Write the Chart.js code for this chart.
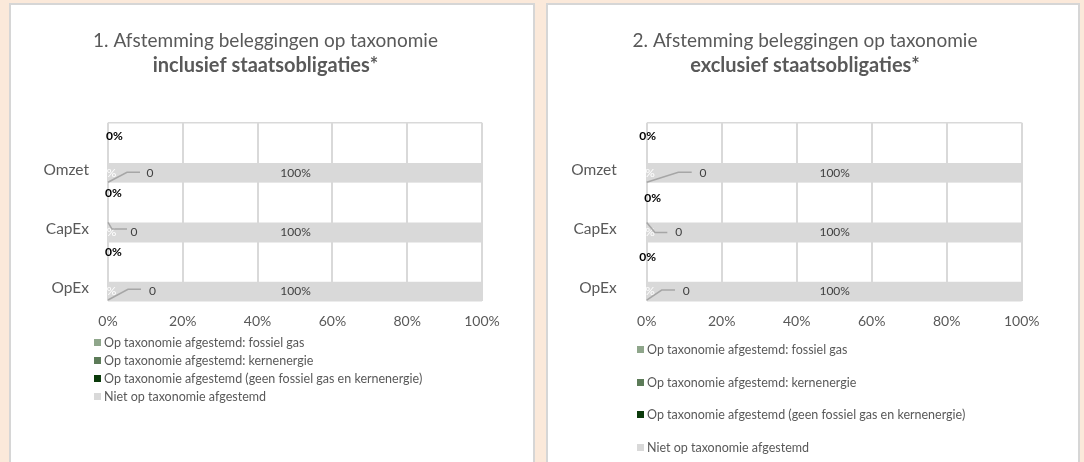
<!DOCTYPE html>
<html>
<head>
<meta charset="utf-8">
<script src="https://cdn.jsdelivr.net/npm/chart.js@4.4.1/dist/chart.umd.min.js"></script>
<style>
    html, body { margin: 0; padding: 0; width: 1084px; height: 462px; overflow: hidden; background: #FBE9DA; font-family: Lato, sans-serif; }
    .panel { position: absolute; top: 3px; height: 470px; background: #fff; border: 2px solid #D6D6D6; box-sizing: border-box; }
    .panel canvas { position: absolute; left: 0; top: 0; }
    .legend { position: absolute; color: #595959; font: 12.5px Lato, sans-serif; }
    .legend .item { display: flex; align-items: center; white-space: nowrap; }
    .legend .sw { width: 7px; height: 7px; margin-right: 3px; flex: none; }
</style>
</head>
<body>
<div class="panel" style="left:9px;width:526px;">
    <canvas id="chart1" width="522" height="457"></canvas>
    <div class="legend" id="legend1" style="left:83px;top:328px;"></div>
</div>
<div class="panel" style="left:546px;width:534px;">
    <canvas id="chart2" width="530" height="457"></canvas>
    <div class="legend" id="legend2" style="left:89px;top:328px;"></div>
</div>
<script>
/* global Chart */

const CATEGORIES   = ['Omzet', 'CapEx', 'OpEx'];
const X_TICKS      = [0, 20, 40, 60, 80, 100];
const SERIES_NAMES = [
    'Op taxonomie afgestemd: fossiel gas',
    'Op taxonomie afgestemd: kernenergie',
    'Op taxonomie afgestemd (geen fossiel gas en kernenergie)',
    'Niet op taxonomie afgestemd',
];
const SERIES_COLORS = ['#8FA68B', '#5C7B58', '#0B3A0B', '#D9D9D9'];

// 1. inclusief staatsobligaties
const INCL_FOSSIEL_GAS = [0, 0, 0];
const INCL_KERNENERGIE = [0, 0, 0];
const INCL_OVERIG      = [0, 0, 0];
const INCL_NIET        = [100, 100, 100];

// 2. exclusief staatsobligaties
const EXCL_FOSSIEL_GAS = [0, 0, 0];
const EXCL_KERNENERGIE = [0, 0, 0];
const EXCL_OVERIG      = [0, 0, 0];
const EXCL_NIET        = [100, 100, 100];

const TEXT  = '#595959';
const GRID  = '#D9D9D9';
const FONT  = 'Lato';

// label placement per category (offsets from the zero line / bar edges)
const LABELS_1 = [
    { edge: 'bottom', leader: [[0, 0], [19, -10], [32, -10]],     text: [42, -9.3],  bold: [-2, 3.5] },
    { edge: 'top',    leader: [[0, 0], [4, 6.6], [19, 6.6]],      text: [26, 9.7],   bold: [-3, 1.2] },
    { edge: 'bottom', leader: [[0, -1], [20, -11.7], [33, -11.7]], text: [44.5, -10], bold: [-3, 1.2] },
];
const LABELS_2 = [
    { edge: 'bottom', leader: [[0, 0], [31.6, -10], [45, -10]],   text: [56.3, -9.3], bold: [-7.4, 3.5] },
    { edge: 'top',    leader: [[0, 0], [8.3, 10], [20.6, 10]],    text: [32, 9.7],    bold: [-2.4, 6.8] },
    { edge: 'bottom', leader: [[0, -1], [15, -11], [28.3, -11]],  text: [39.6, -10],  bold: [-7.4, 6.2] },
];

// ---------------------------------------------------------------------------
// Data labels (Excel style: values, leader lines)
// ---------------------------------------------------------------------------

const barLabels = {
    id: 'barLabels',
    afterDatasetsDraw(chart, args, opts) {
        const ctx   = chart.ctx;
        const base  = chart.scales.x.getPixelForValue(0);
        const metas = chart.data.datasets.map((d, k) => chart.getDatasetMeta(k));
        const vals  = chart.data.datasets.map(d => d.data);
        ctx.save();
        ctx.textBaseline = 'middle';
        CATEGORIES.forEach((cat, i) => {
            const bar = metas[3].data[i];
            const lay = opts.layout[i];
            ctx.font = `12px ${FONT}`;
            ctx.textAlign = 'center';
            ctx.fillStyle = '#FFFFFF';
            ctx.fillText(vals[2][i] + '%', base, bar.y);
            ctx.fillStyle = '#404040';
            ctx.fillText(vals[3][i] + '%', (bar.base + bar.x) / 2, bar.y);

            const ey = lay.edge === 'top' ? bar.y - bar.height / 2 : bar.y + bar.height / 2;
            ctx.strokeStyle = '#A6A6A6';
            ctx.lineWidth = 1.5;
            ctx.beginPath();
            lay.leader.forEach(([dx, dy], j) => {
                if (j === 0) ctx.moveTo(base + dx, ey + dy);
                else ctx.lineTo(base + dx, ey + dy);
            });
            ctx.stroke();
            ctx.fillText(String(vals[1][i]), base + lay.text[0], ey + lay.text[1]);

            ctx.font = `bold 12px ${FONT}`;
            ctx.textAlign = 'left';
            ctx.fillStyle = '#000000';
            ctx.fillText(vals[0][i] + '%', base + lay.bold[0], metas[0].data[i].y + lay.bold[1]);
        });
        ctx.restore();
    },
};

// ---------------------------------------------------------------------------
// Chart
// ---------------------------------------------------------------------------

function buildChart(id, cfg) {
    const datasets = SERIES_NAMES.map((name, k) => ({
        label:              name,
        data:               cfg.series[k],
        backgroundColor:    SERIES_COLORS[k],
        borderWidth:        0,
        categoryPercentage: 0.904,
        barPercentage:      1.43,
        yAxisID:            'y',
    }));
    return new Chart(document.getElementById(id), {
        type: 'bar',
        data: { labels: CATEGORIES, datasets },
        options: {
            responsive: false,
            animation:  false,
            indexAxis:  'y',
            layout: { padding: { left: cfg.padLeft, right: cfg.padRight, top: 0, bottom: 121 } },
            plugins: {
                legend:  { display: false },
                tooltip: { enabled: false },
                title: {
                    display: true, text: cfg.title, color: TEXT,
                    font: { family: FONT, size: 19, weight: 'normal' },
                    padding: { top: 24, bottom: 2 },
                },
                subtitle: {
                    display: true, text: cfg.subtitle, color: TEXT,
                    font: { family: FONT, size: 20, weight: 'bold' },
                    padding: { top: 0, bottom: 45 },
                },
                barLabels: { layout: cfg.labels },
            },
            scales: {
                x: {
                    min: 0, max: 100,
                    afterBuildTicks: s => { s.ticks = X_TICKS.map(v => ({ value: v })); },
                    ticks:  { color: TEXT, font: { family: FONT, size: 14 }, padding: 12, callback: v => v + '%' },
                    grid:   { color: GRID, lineWidth: 2, drawTicks: false },
                    border: { display: false },
                    afterFit: s => { s.height = 40; },
                },
                y: {
                    ticks:  { color: TEXT, font: { family: FONT, size: 15.5 }, padding: cfg.labelPad, labelOffset: 17 },
                    grid:   { color: GRID, lineWidth: 1.5, drawTicks: false, offset: true },
                    border: { display: false },
                    afterFit: s => { s.width = cfg.axisWidth; },
                },
                // empty right-hand strip, keeps the title centred like the original
                gap: {
                    type: 'category', axis: 'y', position: 'right',
                    grid:   { display: false, drawTicks: false },
                    ticks:  { display: false },
                    border: { display: false },
                    afterFit: s => { s.width = cfg.rightGap; },
                },
            },
        },
        plugins: [barLabels],
    });
}

function renderLegend(id, rowHeight) {
    const el = document.getElementById(id);
    el.innerHTML = SERIES_NAMES.map((name, k) => `
        <div class="item" style="height:${rowHeight}px;">
            <span class="sw" style="background:${SERIES_COLORS[k]};"></span>${name}
        </div>`).join('');
}

buildChart('chart1', {
    title:     '1. Afstemming beleggingen op taxonomie',
    subtitle:  'inclusief staatsobligaties*',
    series:    [INCL_FOSSIEL_GAS, INCL_KERNENERGIE, INCL_OVERIG, INCL_NIET],
    labels:    LABELS_1,
    padLeft:   29,
    padRight:  42,
    axisWidth: 68,
    rightGap:  9,
    labelPad:  19,
});

buildChart('chart2', {
    title:     '2. Afstemming beleggingen op taxonomie',
    subtitle:  'exclusief staatsobligaties*',
    series:    [EXCL_FOSSIEL_GAS, EXCL_KERNENERGIE, EXCL_OVERIG, EXCL_NIET],
    labels:    LABELS_2,
    padLeft:   18,
    padRight:  34,
    axisWidth: 80.7,
    rightGap:  22.3,
    labelPad:  30,
});

renderLegend('legend1', 18);
renderLegend('legend2', 32.7);
</script>
</body>
</html>
